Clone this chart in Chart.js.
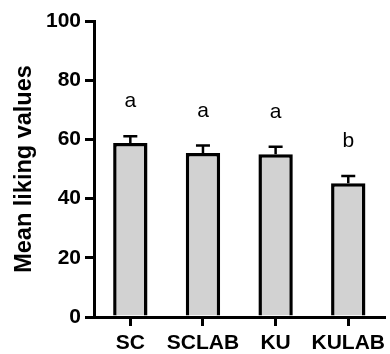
<!DOCTYPE html>
<html>
<head>
<meta charset="utf-8">
<script src="https://cdn.jsdelivr.net/npm/chart.js@4.4.1/dist/chart.umd.min.js"></script>
<style>
  body { margin: 0; background: #fff; }
  #wrap { width: 390px; height: 354px; }
</style>
</head>
<body>
<div id="wrap"><canvas id="chartCanvas" width="390" height="354"></canvas></div>
<script>
const categories = ['SC', 'SCLAB', 'KU', 'KULAB'];
const meanLiking = [58.8, 55.4, 55.0, 45.2];
const semLiking = [2.3, 2.5, 2.5, 2.4];
const groupLetters = ['a', 'a', 'a', 'b'];
const yTicks = [0, 20, 40, 60, 80, 100];

const fontFam = '"Liberation Sans", Arial, Helvetica, sans-serif';

// barras de error (solo hacia arriba) y letras de significancia
const errorBarsPlugin = {
    id: 'errorBars',
    afterDatasetsDraw(chart) {
        const ctx = chart.ctx;
        const x = chart.scales.x;
        const y = chart.scales.y;
        ctx.save();
        ctx.strokeStyle = '#000';
        ctx.lineWidth = 2.5;
        meanLiking.forEach((m, i) => {
            const cx = x.getPixelForValue(i);
            const yTop = y.getPixelForValue(m);
            const yErr = y.getPixelForValue(m + semLiking[i]);
            ctx.beginPath();
            ctx.moveTo(cx, yTop);
            ctx.lineTo(cx, yErr);
            ctx.moveTo(cx - 7, yErr);
            ctx.lineTo(cx + 7, yErr);
            ctx.stroke();

            ctx.fillStyle = '#000';
            ctx.font = '21px ' + fontFam;
            ctx.textAlign = 'center';
            ctx.textBaseline = 'alphabetic';
            ctx.fillText(groupLetters[i], cx, yErr - 29);
        });
        ctx.restore();
    }
};

const chart = new Chart(document.getElementById('chartCanvas').getContext('2d'), {
    type: 'bar',
    data: {
        labels: categories,
        datasets: [{
            data: meanLiking,
            backgroundColor: '#d2d2d2',
            borderColor: '#000',
            borderWidth: 3.5,
            categoryPercentage: 1,
            barPercentage: 0.473
        }]
    },
    options: {
        responsive: false,
        animation: false,
        layout: { padding: { top: 21, right: 0, left: 0, bottom: 0 } },
        plugins: {
            legend: { display: false },
            tooltip: { enabled: false }
        },
        scales: {
            x: {
                grid: {
                    display: true,
                    drawOnChartArea: false,
                    drawTicks: true,
                    offset: false,
                    tickLength: 9,
                    color: '#000',
                    lineWidth: 3
                },
                border: { display: true, color: '#000', width: 3 },
                ticks: {
                    color: '#000',
                    padding: 5,
                    font: { family: fontFam, size: 21, weight: 'bold' },
                    maxRotation: 0,
                    autoSkip: false
                },
                afterFit(scale) { scale.height = 37; }
            },
            y: {
                min: 0,
                max: 100,
                afterBuildTicks(scale) {
                    scale.ticks = yTicks.map(v => ({ value: v }));
                },
                grid: {
                    display: true,
                    drawOnChartArea: false,
                    drawTicks: true,
                    tickLength: 9,
                    color: '#000',
                    lineWidth: 3
                },
                border: { display: true, color: '#000', width: 3 },
                ticks: {
                    color: '#000',
                    padding: 4,
                    font: { family: fontFam, size: 21, weight: 'bold' }
                },
                title: {
                    display: true,
                    text: 'Mean liking values',
                    color: '#000',
                    padding: { top: 10, bottom: 0 },
                    font: { family: fontFam, size: 23.5, weight: 'bold' }
                },
                afterFit(scale) { scale.width = 94; }
            }
        }
    },
    plugins: [errorBarsPlugin]
});
</script>
</body>
</html>
